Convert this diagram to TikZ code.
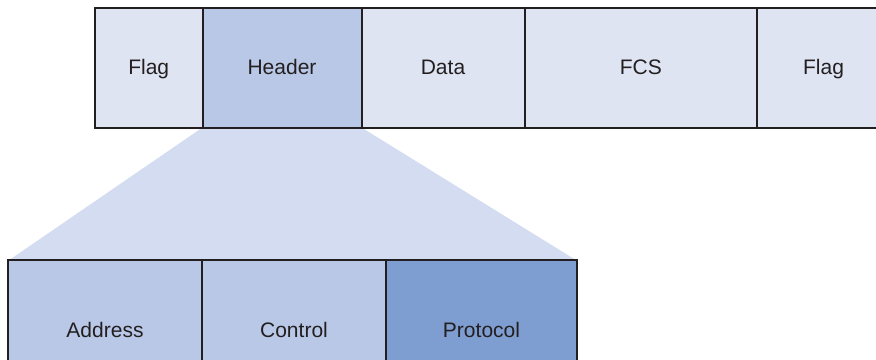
\documentclass[tikz,border=0pt]{standalone}
\usepackage{fontspec}
\setmainfont{Liberation Sans}
\usetikzlibrary{positioning,backgrounds}
\definecolor{lineblack}{HTML}{231F20}
\definecolor{flagblue}{HTML}{DFE4F3}
\definecolor{headblue}{HTML}{B9C8E7}
\definecolor{funnelblue}{HTML}{D3DCF0}
\definecolor{protoblue}{HTML}{7E9ED2}

\tikzset{
	field/.style={draw=lineblack, line width=1pt, outer sep=0pt, inner sep=0pt,
		text=lineblack, text height=0.82em, text depth=0.1em,
		font=\fontsize{10.5}{12}\selectfont},
	topfield/.style={field, minimum height=59.75pt},
	subfield/.style={field, minimum height=70.5pt, fill=headblue},
	funnel/.style={fill=funnelblue}
}

\begin{document}
\begin{tikzpicture}[x=0.5pt, y=-0.5pt]
	\useasboundingbox (0,0) rectangle (876,359);
	% frame
	\node[topfield, fill=flagblue, minimum width=53.75pt, anchor=north west] (flagl) at (95,8) {Flag};
	\node[topfield, fill=headblue, minimum width=79.5pt, right=0pt of flagl] (hdr) {Header};
	\node[topfield, fill=flagblue, minimum width=81.5pt, right=0pt of hdr] (data) {Data};
	\node[topfield, fill=flagblue, minimum width=116.25pt, right=0pt of data] (fcs) {FCS};
	\node[topfield, fill=flagblue, minimum width=66.5pt, right=0pt of fcs] (flagr) {Flag};
	% header fields
	\node[subfield, minimum width=97pt, anchor=north west] (addr) at (8,259.5) {Address};
	\node[subfield, minimum width=92pt, right=0pt of addr] (ctrl) {Control};
	\node[subfield, fill=protoblue, minimum width=95.5pt, right=0pt of ctrl] (proto) {Protocol};
	\begin{scope}[on background layer]
		\fill[funnel] (hdr.south west) -- (hdr.south east) -- ([xshift=-1pt]proto.north east)
			-- ([xshift=1pt]addr.north west) -- cycle;
	\end{scope}
\end{tikzpicture}
\end{document}
